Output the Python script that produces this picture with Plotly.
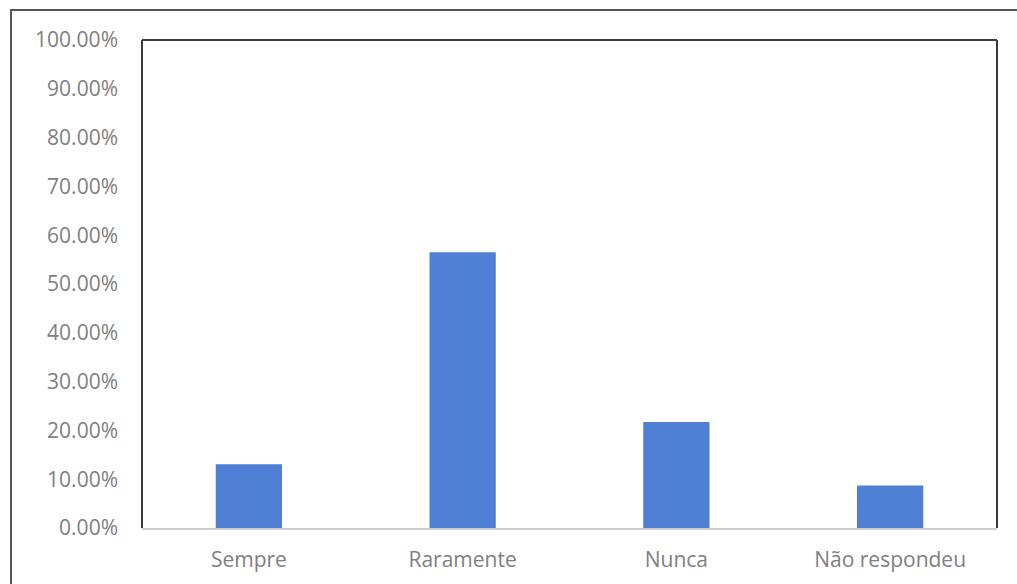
import plotly.graph_objects as go

categories = ["Sempre", "Raramente", "Nunca", "Não respondeu"]
shares = [0.1304, 0.5652, 0.2174, 0.0870]

fig = go.Figure(
    go.Bar(
        x=categories,
        y=shares,
        marker=dict(color="#4f80d6", line=dict(width=0)),
        width=0.31,
        hoverinfo="x+y",
    )
)

frame = "#3a3a3a"
shapes = [
    # outer chart border
    dict(type="rect", xref="paper", yref="paper", x0=-0.1532, y0=-0.25, x1=1.2, y1=1.0615,
         line=dict(color="#555555", width=2), layer="below"),
    # plot-area frame (top, left, right)
    dict(type="line", xref="paper", yref="paper", x0=0, x1=1, y0=1, y1=1, line=dict(color=frame, width=2)),
    dict(type="line", xref="paper", yref="paper", x0=0, x1=0, y0=0, y1=1, line=dict(color=frame, width=2)),
    dict(type="line", xref="paper", yref="paper", x0=1, x1=1, y0=0, y1=1, line=dict(color=frame, width=2)),
]

label_font = dict(family="'Open Sans', sans-serif", size=21, color="#808080")

fig.update_layout(
    width=1017,
    height=584,
    margin=dict(l=142, r=20, t=40, b=56),
    paper_bgcolor="white",
    plot_bgcolor="white",
    showlegend=False,
    font=label_font,
    shapes=shapes,
    xaxis=dict(
        showgrid=False,
        showline=True,
        linecolor="#cfcfcf",
        linewidth=1.5,
        ticks="",
        tickfont=label_font,
        ticklabelstandoff=12,
    ),
    yaxis=dict(
        range=[0, 1],
        dtick=0.1,
        tickformat=".2%",
        showgrid=False,
        zeroline=False,
        showline=False,
        ticks="",
        tickfont=label_font,
        ticklabelstandoff=23,
    ),
)

fig.write_html("out.html")
